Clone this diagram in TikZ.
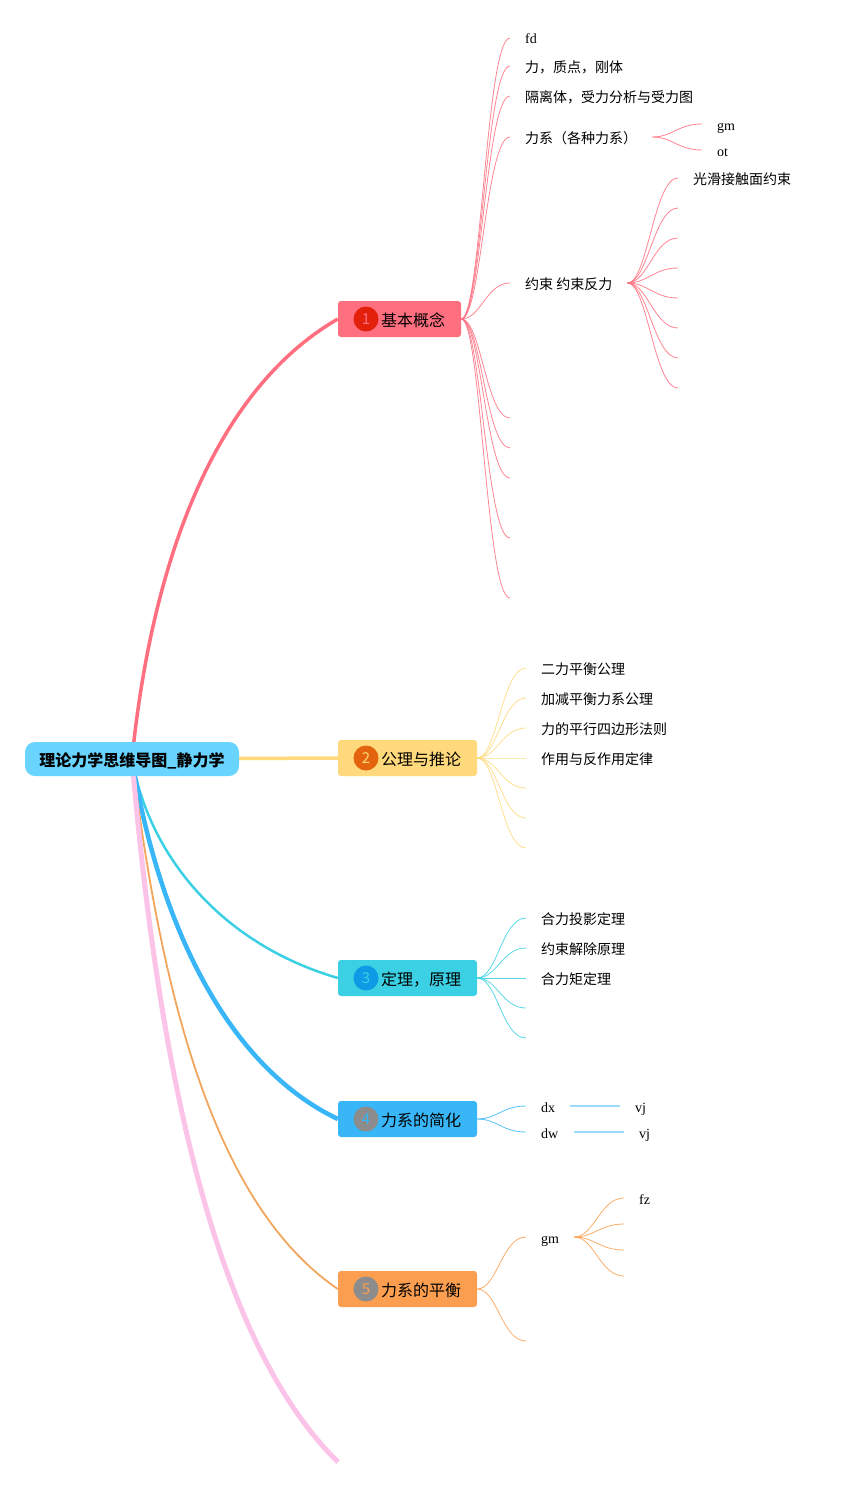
\documentclass[tikz,border=0pt]{standalone}
\usepackage{fontspec}
\usepackage{xcolor}
\usetikzlibrary{backgrounds}
\setmainfont{Liberation Serif}
\newfontfamily\cjk{Noto Sans CJK SC}
\definecolor{rootblue}{HTML}{69D4FF}
\definecolor{redbox}{HTML}{FF6F7F}
\definecolor{yellowbox}{HTML}{FFD97B}
\definecolor{tealbox}{HTML}{3BD0E4}
\definecolor{bluebox}{HTML}{38B6F8}
\definecolor{orangebox}{HTML}{FB9E50}
\definecolor{orangeline}{HTML}{F2A65C}
\definecolor{pinkline}{HTML}{FBC3E8}
\definecolor{dotred}{HTML}{E2200B}
\definecolor{dotorange}{HTML}{E3640D}
\definecolor{dotblue}{HTML}{0E9BE6}
\definecolor{dotgray}{HTML}{8C8C8C}
\begin{document}
\begin{tikzpicture}[
    x=1pt, y=-1pt,
    font=\cjk\fontsize{14}{16}\selectfont,
    rootbox/.style={rectangle, rounded corners=10pt, fill=rootblue, minimum width=214pt,
      minimum height=34pt, inner sep=0pt, text height=16.5pt, text depth=2.3pt,
      font=\cjk\bfseries\fontsize{16}{18}\selectfont},
    branchbox/.style={rectangle, rounded corners=3pt, minimum height=36pt, inner sep=0pt,
      text height=16.5pt, text depth=2.3pt, font=\cjk\fontsize{16}{18}\selectfont},
    numdot/.style={circle, minimum size=25pt, inner sep=0pt, font=\cjk\fontsize{15}{16}\selectfont},
    leaf/.style={anchor=west, inner xsep=15pt, inner ysep=0pt, text height=14.5pt, text depth=2.5pt},
    latin/.style={font=\rmfamily\fontsize{14}{16}\selectfont},
    twig/.style={line width=0.8pt, draw opacity=0.85},
    bar/.style={line width=1.3pt, draw opacity=0.5},
]
\useasboundingbox (0,0) rectangle (851,1488);

% Root
\node[rootbox] (root) at (132,759) {理论力学思维导图\_静力学};

% Branch boxes
\node[branchbox, fill=redbox, minimum width=123pt] (jiben) at (399.5,319) {\hspace{27pt}基本概念};
\node[numdot, fill=dotred, text=redbox] (num1) at (366,319) {1};
\node[branchbox, fill=yellowbox, minimum width=139pt] (gongli) at (407.5,758) {\hspace{27pt}公理与推论};
\node[numdot, fill=dotorange, text=yellowbox] (num2) at (366,758) {2};
\node[branchbox, fill=tealbox, minimum width=139pt] (dingli) at (407.5,978) {\hspace{27pt}定理，原理};
\node[numdot, fill=dotblue, text=tealbox] (num3) at (366,978) {3};
\node[branchbox, fill=bluebox, minimum width=139pt] (jianhua) at (407.5,1119) {\hspace{27pt}力系的简化};
\node[numdot, fill=dotgray, text=bluebox] (num4) at (366,1119) {4};
\node[branchbox, fill=orangebox, minimum width=139pt] (pingheng) at (407.5,1289) {\hspace{27pt}力系的平衡};
\node[numdot, fill=dotgray, text=orangebox] (num5) at (366,1289) {5};
\coordinate (pinkend) at (338,1462);

% Root connectors
\begin{scope}[on background layer]
\draw[redbox, line width=3.5pt] (root.center) .. controls (152,560) and (215,390) .. (jiben.west);
\draw[yellowbox, line width=3.5pt] (root.center) -- (gongli.west);
\draw[tealbox, line width=2.5pt] (root.center) .. controls (150,860) and (225,945) .. (dingli.west);
\draw[bluebox, line width=4.5pt] (root.center) .. controls (158,920) and (225,1065) .. (jianhua.west);
\draw[orangeline, line width=1.8pt] (root.center) .. controls (162,1000) and (215,1205) .. (pingheng.west);
\draw[pinkline, line width=5pt] (root.center) .. controls (156,1040) and (208,1335) .. (pinkend);
\end{scope}

% Branch 1 leaves
\node[leaf, latin] (fd) at (510,38) {fd};
\node[leaf] (zhidian) at (510,66) {力，质点，刚体};
\node[leaf] (geli) at (510,96) {隔离体，受力分析与受力图};
\node[leaf] (lixi) at (510,137) {力系（各种力系）};
\node[leaf] (yueshu) at (510,283) {约束 约束反力};
\coordinate (red6) at (510,418);
\coordinate (red7) at (510,448);
\coordinate (red8) at (510,478);
\coordinate (red9) at (510,538);
\coordinate (red10) at (510,598);
\draw[twig, redbox] (jiben.east) .. controls +(20,0) and +(-24,0) .. (fd.west);
\draw[twig, redbox] (jiben.east) .. controls +(20,0) and +(-24,0) .. (zhidian.west);
\draw[twig, redbox] (jiben.east) .. controls +(20,0) and +(-24,0) .. (geli.west);
\draw[twig, redbox] (jiben.east) .. controls +(20,0) and +(-24,0) .. (lixi.west);
\draw[twig, redbox] (jiben.east) .. controls +(20,0) and +(-24,0) .. (yueshu.west);
\draw[twig, redbox] (jiben.east) .. controls +(20,0) and +(-24,0) .. (red6);
\draw[twig, redbox] (jiben.east) .. controls +(20,0) and +(-24,0) .. (red7);
\draw[twig, redbox] (jiben.east) .. controls +(20,0) and +(-24,0) .. (red8);
\draw[twig, redbox] (jiben.east) .. controls +(20,0) and +(-24,0) .. (red9);
\draw[twig, redbox] (jiben.east) .. controls +(20,0) and +(-24,0) .. (red10);

% Force system children
\node[leaf, latin] (lixigm) at (702,124) {gm};
\node[leaf, latin] (lixiot) at (702,150) {ot};
\draw[twig, redbox] (lixi.east) .. controls +(20,0) and +(-24,0) .. (lixigm.west);
\draw[twig, redbox] (lixi.east) .. controls +(20,0) and +(-24,0) .. (lixiot.west);

% Constraint children
\node[leaf] (guanghua) at (678,178) {光滑接触面约束};
\coordinate (yue2) at (678,208);
\coordinate (yue3) at (678,238);
\coordinate (yue4) at (678,268);
\coordinate (yue5) at (678,298);
\coordinate (yue6) at (678,328);
\coordinate (yue7) at (678,358);
\coordinate (yue8) at (678,388);
\draw[twig, redbox] (yueshu.east) .. controls +(20,0) and +(-24,0) .. (guanghua.west);
\draw[twig, redbox] (yueshu.east) .. controls +(20,0) and +(-24,0) .. (yue2);
\draw[twig, redbox] (yueshu.east) .. controls +(20,0) and +(-24,0) .. (yue3);
\draw[twig, redbox] (yueshu.east) .. controls +(20,0) and +(-24,0) .. (yue4);
\draw[twig, redbox] (yueshu.east) .. controls +(20,0) and +(-24,0) .. (yue5);
\draw[twig, redbox] (yueshu.east) .. controls +(20,0) and +(-24,0) .. (yue6);
\draw[twig, redbox] (yueshu.east) .. controls +(20,0) and +(-24,0) .. (yue7);
\draw[twig, redbox] (yueshu.east) .. controls +(20,0) and +(-24,0) .. (yue8);

% Branch 2 leaves
\node[leaf] (erli) at (526,668) {二力平衡公理};
\node[leaf] (jiajian) at (526,698) {加减平衡力系公理};
\node[leaf] (pingxing) at (526,728) {力的平行四边形法则};
\node[leaf] (zuoyong) at (526,758) {作用与反作用定律};
\coordinate (yel5) at (526,788);
\coordinate (yel6) at (526,818);
\coordinate (yel7) at (526,848);
\draw[twig, yellowbox] (gongli.east) .. controls +(20,0) and +(-24,0) .. (erli.west);
\draw[twig, yellowbox] (gongli.east) .. controls +(20,0) and +(-24,0) .. (jiajian.west);
\draw[twig, yellowbox] (gongli.east) .. controls +(20,0) and +(-24,0) .. (pingxing.west);
\draw[twig, yellowbox] (gongli.east) .. controls +(20,0) and +(-24,0) .. (zuoyong.west);
\draw[twig, yellowbox] (gongli.east) .. controls +(20,0) and +(-24,0) .. (yel5);
\draw[twig, yellowbox] (gongli.east) .. controls +(20,0) and +(-24,0) .. (yel6);
\draw[twig, yellowbox] (gongli.east) .. controls +(20,0) and +(-24,0) .. (yel7);

% Branch 3 leaves
\node[leaf] (touying) at (526,918) {合力投影定理};
\node[leaf] (jiechu) at (526,948) {约束解除原理};
\node[leaf] (liju) at (526,978) {合力矩定理};
\coordinate (tea4) at (526,1008);
\coordinate (tea5) at (526,1038);
\draw[twig, tealbox] (dingli.east) .. controls +(20,0) and +(-24,0) .. (touying.west);
\draw[twig, tealbox] (dingli.east) .. controls +(20,0) and +(-24,0) .. (jiechu.west);
\draw[twig, tealbox] (dingli.east) .. controls +(20,0) and +(-24,0) .. (liju.west);
\draw[twig, tealbox] (dingli.east) .. controls +(20,0) and +(-24,0) .. (tea4);
\draw[twig, tealbox] (dingli.east) .. controls +(20,0) and +(-24,0) .. (tea5);

% Branch 4 leaves
\node[leaf, latin] (dx) at (526,1106) {dx};
\node[leaf, latin] (dw) at (526,1132) {dw};
\node[leaf, latin] (dxvj) at (620,1106) {vj};
\node[leaf, latin] (dwvj) at (624,1132) {vj};
\draw[twig, bluebox] (jianhua.east) .. controls +(20,0) and +(-24,0) .. (dx.west);
\draw[twig, bluebox] (jianhua.east) .. controls +(20,0) and +(-24,0) .. (dw.west);
\draw[bar, bluebox] (dx.east) -- (dxvj.west);
\draw[bar, bluebox] (dw.east) -- (dwvj.west);

% Branch 5 leaves
\node[leaf, latin] (pinggm) at (526,1237) {gm};
\coordinate (ora2) at (526,1341);
\draw[twig, orangebox] (pingheng.east) .. controls +(20,0) and +(-24,0) .. (pinggm.west);
\draw[twig, orangebox] (pingheng.east) .. controls +(20,0) and +(-24,0) .. (ora2);
\node[leaf, latin] (fz) at (624,1198) {fz};
\coordinate (gm2) at (624,1224);
\coordinate (gm3) at (624,1250);
\coordinate (gm4) at (624,1276);
\draw[twig, orangebox] (pinggm.east) .. controls +(20,0) and +(-24,0) .. (fz.west);
\draw[twig, orangebox] (pinggm.east) .. controls +(20,0) and +(-24,0) .. (gm2);
\draw[twig, orangebox] (pinggm.east) .. controls +(20,0) and +(-24,0) .. (gm3);
\draw[twig, orangebox] (pinggm.east) .. controls +(20,0) and +(-24,0) .. (gm4);

\end{tikzpicture}
\end{document}
